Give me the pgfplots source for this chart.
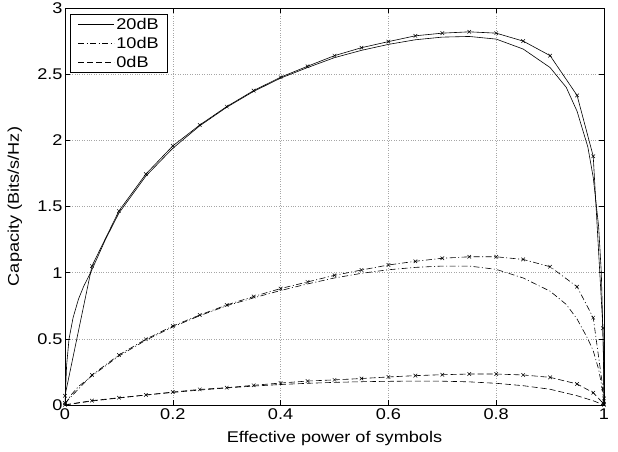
\documentclass[border=0pt]{standalone}
\usepackage{fontspec}
\setmainfont{Liberation Sans}[FakeStretch=1.17]
\usepackage{pgfplots}
\pgfplotsset{compat=1.18}
\begin{document}
\begin{tikzpicture}[x=1pt,y=1pt]
\useasboundingbox (-65,-46) rectangle (553,405);
\begin{axis}[
  scale only axis, width=539pt, height=397pt,
  at={(0,0)}, anchor=south west,
  xmin=0, xmax=1, ymin=0, ymax=3,
  xtick={0,0.2,0.4,0.6,0.8,1}, ytick={0,0.5,1,1.5,2,2.5,3},
  xticklabels={0,0.2,0.4,0.6,0.8,1},
  yticklabels={0,0.5,1,1.5,2,2.5,3},
  tick align=inside, tick pos=both,
  major tick length=5pt,
  every tick/.style={black, line width=0.5pt},
  grid=major,
  major grid style={gray!70, dotted, line width=0.6pt},
  axis line style={line width=0.8pt},
  ticklabel style={font=\fontsize{15.5}{17}\selectfont},
  yticklabel style={xshift=1pt},
  label style={font=\fontsize{15.5}{17}\selectfont},
  xlabel={Effective power of symbols},
  ylabel={Capacity (Bits/s/Hz)},
  xlabel style={at={(axis description cs:0.5,0)}, anchor=center, yshift=-33pt},
  ylabel style={at={(axis description cs:-0.093,0.5)}, anchor=center},
  legend cell align=left,
  legend style={font=\fontsize{15.5}{17}\selectfont, draw=black, line width=0.8pt, at={(0.01,0.985)}, anchor=north west, inner xsep=7pt, inner ysep=2pt, row sep=2pt, /tikz/every even column/.append style={column sep=9pt}},
  legend image code/.code={\draw[#1, line width=0.6pt] (0pt,0pt) -- (36pt,0pt);},
  every axis plot/.append style={line width=0.6pt, black},
]
% unmarked (theory) curves
\addplot[solid] coordinates {(0,0) (0.003,0.3) (0.0075,0.5) (0.015,0.66) (0.025,0.8) (0.035,0.9) (0.0475,1.0) (0.075,1.25) (0.1,1.45) (0.15,1.73) (0.2,1.94) (0.25,2.11) (0.3,2.25) (0.35,2.37) (0.4,2.47) (0.45,2.55) (0.5,2.625) (0.55,2.68) (0.6,2.725) (0.65,2.76) (0.7,2.78) (0.75,2.785) (0.8,2.765) (0.85,2.69) (0.9,2.55) (0.93,2.40) (0.95,2.22) (0.97,1.95) (0.98,1.72) (0.99,1.35) (0.995,1.0) (0.999,0.4) (1,0)};
\addlegendentry{20dB}
\addplot[dash pattern=on 6pt off 2.5pt on 1pt off 2.5pt] coordinates {(0,0) (0.01,0.07) (0.025,0.14) (0.05,0.22) (0.1,0.37) (0.15,0.49) (0.2,0.59) (0.25,0.675) (0.3,0.75) (0.35,0.81) (0.4,0.865) (0.45,0.915) (0.5,0.96) (0.55,0.995) (0.6,1.022) (0.65,1.04) (0.7,1.05) (0.75,1.05) (0.8,1.025) (0.85,0.96) (0.9,0.86) (0.93,0.76) (0.95,0.65) (0.97,0.50) (0.98,0.41) (0.99,0.27) (0.997,0.12) (1,0)};
\addlegendentry{10dB}
\addplot[dash pattern=on 6pt off 3pt] coordinates {(0,0) (0.05,0.03) (0.1,0.053) (0.15,0.075) (0.2,0.095) (0.25,0.113) (0.3,0.129) (0.35,0.143) (0.4,0.155) (0.45,0.164) (0.5,0.171) (0.55,0.176) (0.6,0.179) (0.65,0.181) (0.7,0.18) (0.75,0.175) (0.8,0.164) (0.85,0.146) (0.9,0.119) (0.95,0.07) (0.98,0.032) (1,0)};
\addlegendentry{0dB}
% marked (simulation) curves
\addplot[solid, mark=x, mark size=2.5pt, mark options={solid, line width=0.5pt}, forget plot] coordinates {(0,0.07) (0.05,1.05) (0.1,1.466) (0.15,1.745) (0.2,1.958) (0.25,2.116) (0.3,2.255) (0.35,2.376) (0.4,2.477) (0.45,2.56) (0.5,2.64) (0.55,2.70) (0.6,2.746) (0.65,2.79) (0.7,2.81) (0.75,2.82) (0.8,2.81) (0.85,2.75) (0.9,2.64) (0.95,2.34) (0.98,1.88) (0.998,0.58) (1,0.05)};
\addplot[dash pattern=on 6pt off 2.5pt on 1pt off 2.5pt, mark=x, mark size=2.5pt, mark options={solid, line width=0.5pt}, forget plot] coordinates {(0,0.015) (0.05,0.227) (0.1,0.378) (0.15,0.497) (0.2,0.597) (0.25,0.68) (0.3,0.756) (0.35,0.82) (0.4,0.88) (0.45,0.93) (0.5,0.98) (0.55,1.02) (0.6,1.058) (0.65,1.086) (0.7,1.109) (0.75,1.12) (0.8,1.12) (0.85,1.10) (0.9,1.045) (0.95,0.894) (0.98,0.66) (0.998,0.125) (1,0.01)};
\addplot[dash pattern=on 6pt off 3pt, mark=x, mark size=2.5pt, mark options={solid, line width=0.5pt}, forget plot] coordinates {(0,0.002) (0.05,0.033) (0.1,0.055) (0.15,0.076) (0.2,0.098) (0.25,0.118) (0.3,0.131) (0.35,0.149) (0.4,0.166) (0.45,0.181) (0.5,0.19) (0.55,0.2) (0.6,0.212) (0.65,0.222) (0.7,0.229) (0.75,0.234) (0.8,0.234) (0.85,0.227) (0.9,0.209) (0.95,0.159) (0.98,0.093) (0.998,0.015) (1,0.002)};
\end{axis}
\end{tikzpicture}
\end{document}
